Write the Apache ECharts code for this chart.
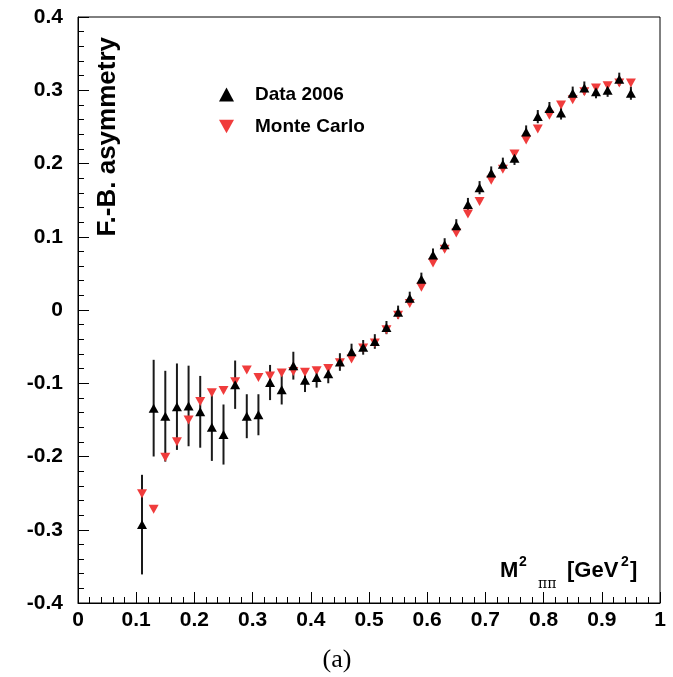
<!DOCTYPE html>
<html>
<head>
<meta charset="utf-8">
<script src="https://cdn.jsdelivr.net/npm/echarts@6/dist/echarts.min.js"></script>
<style>
html,body{margin:0;padding:0;background:#fff;}
#chart{width:673px;height:677px;}
</style>
</head>
<body>
<div id="chart"></div>
<script>
// ---- data ----
const xValues = [0.11,0.13,0.15,0.17,0.19,0.21,0.23,0.25,0.27,0.29,0.31,0.33,0.35,0.37,0.39,0.41,0.43,0.45,0.47,0.49,0.51,0.53,0.55,0.57,0.59,0.61,0.63,0.65,0.67,0.69,0.71,0.73,0.75,0.77,0.79,0.81,0.83,0.85,0.87,0.89,0.91,0.93,0.95];
const dataY = [-0.293,-0.134,-0.145,-0.132,-0.131,-0.139,-0.160,-0.170,-0.102,-0.145,-0.143,-0.099,-0.109,-0.076,-0.096,-0.092,-0.087,-0.071,-0.057,-0.051,-0.043,-0.024,-0.003,0.016,0.042,0.075,0.089,0.115,0.144,0.167,0.187,0.199,0.207,0.243,0.264,0.275,0.269,0.296,0.303,0.298,0.300,0.315,0.296];
const dataErr = [0.068,0.066,0.062,0.059,0.055,0.049,0.046,0.041,0.033,0.030,0.028,0.024,0.020,0.019,0.016,0.014,0.013,0.012,0.011,0.010,0.010,0.009,0.009,0.009,0.009,0.009,0.009,0.009,0.009,0.009,0.009,0.009,0.009,0.009,0.009,0.009,0.009,0.009,0.009,0.009,0.009,0.009,0.009];
const mcY = [-0.251,-0.272,-0.201,-0.180,-0.150,-0.125,-0.113,-0.110,-0.098,-0.082,-0.092,-0.090,-0.086,-0.084,-0.085,-0.083,-0.080,-0.072,-0.067,-0.052,-0.045,-0.027,-0.007,0.009,0.031,0.064,0.083,0.105,0.131,0.148,0.177,0.192,0.213,0.232,0.247,0.266,0.280,0.287,0.298,0.303,0.306,0.310,0.310];
const seriesNames = ['Data 2006', 'Monte Carlo'];
const xTickValues = [0,0.1,0.2,0.3,0.4,0.5,0.6,0.7,0.8,0.9,1];
const yTickValues = [-0.4,-0.3,-0.2,-0.1,0,0.1,0.2,0.3,0.4];

const dataPoints = xValues.map((x, i) => [x, dataY[i]]);
const errPoints = xValues.map((x, i) => [x, dataY[i] - dataErr[i], dataY[i] + dataErr[i]]);
const mcPoints = xValues.map((x, i) => [x, mcY[i]]);

const FONT = '"Liberation Sans", Arial, Helvetica, sans-serif';
const RED = '#f03c3c';
const downTri = 'path://M0,0L2,0L1,1.8Z';

const chart = echarts.init(document.getElementById('chart'), null, {renderer: 'canvas'});

const axisCommon = {
  axisLine: {show: true, onZero: false, lineStyle: {color: '#000', width: 1}},
  axisTick: {show: true, inside: true, length: 11, lineStyle: {color: '#000', width: 1}},
  minorTick: {show: true, splitNumber: 5, length: 6, lineStyle: {color: '#000', width: 1}},
  splitLine: {show: false},
  axisLabel: {color: '#000', fontFamily: FONT, fontWeight: 'bold', fontSize: 21}
};

chart.setOption({
  animation: false,
  backgroundColor: '#fff',
  grid: {left: 78, right: 13, top: 17, bottom: 74, show: true, borderColor: '#000', borderWidth: 1, containLabel: false, outerBoundsMode: 'none'},
  xAxis: Object.assign({}, axisCommon, {
    type: 'value', min: xTickValues[0], max: xTickValues[xTickValues.length - 1], interval: 0.1,
    axisLabel: Object.assign({}, axisCommon.axisLabel, {margin: 7, showMinLabel: true, showMaxLabel: true})
  }),
  yAxis: Object.assign({}, axisCommon, {
    type: 'value', min: yTickValues[0], max: yTickValues[yTickValues.length - 1], interval: 0.1,
    axisLabel: Object.assign({}, axisCommon.axisLabel, {margin: 15, showMinLabel: true, showMaxLabel: true})
  }),
  legend: {
    orient: 'vertical', left: 214, top: 80,
    itemWidth: 15, itemHeight: 14, itemGap: 13,
    data: seriesNames,
    textStyle: {color: '#000', fontFamily: FONT, fontWeight: 'bold', fontSize: 19, padding: [0, 0, 0, 16]}
  },
  series: [
    {
      type: 'custom',
      name: 'err',
      data: errPoints,
      z: 1,
      renderItem: function (params, api) {
        const p1 = api.coord([api.value(0), api.value(1)]);
        const p2 = api.coord([api.value(0), api.value(2)]);
        return {
          type: 'line',
          shape: {x1: p1[0], y1: p1[1], x2: p2[0], y2: p2[1]},
          style: {stroke: '#1a1a1a', lineWidth: 2}
        };
      },
      silent: true
    },
    {
      type: 'scatter', name: seriesNames[1], data: mcPoints,
      symbol: downTri, symbolSize: [10, 9],
      itemStyle: {color: RED, opacity: 1}, z: 2
    },
    {
      type: 'scatter', name: seriesNames[0], data: dataPoints,
      symbol: 'triangle', symbolSize: [10, 9],
      itemStyle: {color: '#000', opacity: 1}, z: 3
    }
  ],
  graphic: [
    {type: 'text', x: 108, y: 37, rotation: Math.PI / 2,
     style: {text: 'F.-B. asymmetry', fill: '#000', font: 'bold 26px ' + FONT, align: 'right', verticalAlign: 'middle'}},
    {type: 'text', x: 500, y: 571, style: {text: 'M', fill: '#000', font: 'bold 22px ' + FONT, align: 'left', verticalAlign: 'middle'}},
    {type: 'text', x: 519, y: 562, style: {text: '2', fill: '#000', font: 'bold 14px ' + FONT, align: 'left', verticalAlign: 'middle'}},
    {type: 'text', x: 538, y: 584, style: {text: 'ππ', fill: '#000', font: '14px "DejaVu Serif", serif', align: 'left', verticalAlign: 'middle'}},
    {type: 'text', x: 567, y: 571, style: {text: '[GeV', fill: '#000', font: 'bold 22px ' + FONT, align: 'left', verticalAlign: 'middle'}},
    {type: 'text', x: 621, y: 562, style: {text: '2', fill: '#000', font: 'bold 14px ' + FONT, align: 'left', verticalAlign: 'middle'}},
    {type: 'text', x: 630, y: 571, style: {text: ']', fill: '#000', font: 'bold 22px ' + FONT, align: 'left', verticalAlign: 'middle'}},
    {type: 'text', x: 337, y: 660, style: {text: '(a)', fill: '#000', font: '26px "Liberation Serif", "DejaVu Serif", serif', align: 'center', verticalAlign: 'middle'}}
  ]
});
</script>
</body>
</html>
